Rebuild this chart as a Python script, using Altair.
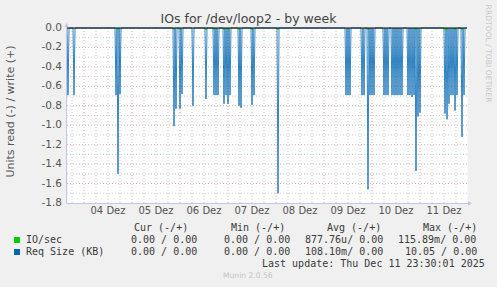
import altair as alt
import pandas as pd

# ---------------- data ----------------
title_text = "IOs for /dev/loop2 - by week"
y_title = "Units read (-) / write (+)"
x_start = "2025-12-03 15:30"
x_end = "2025-12-11 23:30"
step = "30min"
label_days = ["2025-12-04", "2025-12-05", "2025-12-06", "2025-12-07",
              "2025-12-08", "2025-12-09", "2025-12-10", "2025-12-11"]
day_labels = ["04 Dez", "05 Dez", "06 Dez", "07 Dez", "08 Dez", "09 Dez", "10 Dez", "11 Dez"]
y_ticks = [0.0, -0.2, -0.4, -0.6, -0.8, -1.0, -1.2, -1.4, -1.6, -1.8]
y_tick_labels = ["0.0", "-0.2", "-0.4", "-0.6", "-0.8", "-1.0", "-1.2", "-1.4", "-1.6", "-1.8"]
y_minor = [-0.1, -0.3, -0.5, -0.7, -0.9, -1.1, -1.3, -1.5, -1.7]

# Req Size (KB), read side (negative) spikes
req_times = [
    "2025-12-03 16:00", "2025-12-03 19:00",
    "2025-12-04 16:00", "2025-12-04 17:00", "2025-12-04 18:00",
    "2025-12-05 21:00", "2025-12-05 22:00",
    "2025-12-06 00:00", "2025-12-06 01:00", "2025-12-06 06:30",
    "2025-12-06 13:00", "2025-12-06 17:00", "2025-12-06 18:00", "2025-12-06 19:00",
    "2025-12-06 22:00", "2025-12-06 23:00",
    "2025-12-07 00:00", "2025-12-07 01:00", "2025-12-07 05:30", "2025-12-07 06:30",
    "2025-12-07 12:00", "2025-12-07 13:00",
    "2025-12-08 01:00",
    "2025-12-09 11:00", "2025-12-09 12:00", "2025-12-09 13:00",
    "2025-12-09 19:00", "2025-12-09 20:00", "2025-12-09 22:00", "2025-12-09 23:00",
    "2025-12-10 00:00", "2025-12-10 01:00",
    "2025-12-10 06:00", "2025-12-10 07:00", "2025-12-10 08:00",
    "2025-12-10 10:00", "2025-12-10 11:00", "2025-12-10 12:00", "2025-12-10 13:00",
    "2025-12-10 14:00", "2025-12-10 15:00",
    "2025-12-10 18:00", "2025-12-10 19:00", "2025-12-10 20:00", "2025-12-10 21:00",
    "2025-12-10 22:00", "2025-12-10 23:00",
    "2025-12-11 00:00",
    "2025-12-11 12:30", "2025-12-11 13:30", "2025-12-11 14:30", "2025-12-11 15:30",
    "2025-12-11 16:30", "2025-12-11 17:30", "2025-12-11 18:30",
    "2025-12-11 21:00", "2025-12-11 22:00",
]
req_values = [
    -0.69, -0.69,
    -0.69, -1.50, -0.68,
    -1.01, -0.83,
    -0.83, -0.68, -0.80,
    -0.73, -0.69, -0.69, -0.69,
    -0.78, -0.69,
    -0.78, -0.69, -0.80, -0.82,
    -0.79, -0.69,
    -1.70,
    -0.69, -0.69, -0.69,
    -0.69, -0.69, -1.66, -0.69,
    -0.69, -0.69,
    -0.69, -0.69, -0.69,
    -0.69, -0.69, -0.69, -0.69,
    -0.69, -0.69,
    -0.69, -0.69, -0.71, -0.69,
    -1.47, -0.91,
    -0.87,
    -0.88, -0.94, -0.78, -0.69,
    -0.69, -0.85, -0.69,
    -1.12, -0.69,
]

# IO/sec, read side (tiny values)
io_times = [
    "2025-12-04 17:00", "2025-12-05 21:00", "2025-12-06 00:00", "2025-12-06 13:00",
    "2025-12-06 17:00", "2025-12-06 22:00", "2025-12-07 00:00", "2025-12-07 05:30",
    "2025-12-07 12:00", "2025-12-08 01:00", "2025-12-09 22:00", "2025-12-10 22:00",
    "2025-12-11 12:30", "2025-12-11 13:30", "2025-12-11 17:30", "2025-12-11 21:00",
]
io_values = [-0.015] * len(io_times)

legend_names = ["IO/sec", "Req Size (KB)"]
legend_colors = ["#00CC00", "#0066B3"]
col_headers = ["Cur (-/+)", "Min (-/+)", "Avg (-/+)", "Max (-/+)"]
cur_vals = ["0.00 / 0.00", "0.00 / 0.00"]
min_vals = ["0.00 / 0.00", "0.00 / 0.00"]
avg_vals = ["877.76u/ 0.00", "108.10m/ 0.00"]
max_vals = ["115.89m/ 0.00", "10.05 / 0.00"]
last_update = "Last update: Thu Dec 11 23:30:01 2025"
munin_version = "Munin 2.0.56"
rrd_credit = "RRDTOOL / TOBI OETIKER"


def ms(s):
    return int(pd.Timestamp(s, tz="UTC").value // 10**6)


# ---------------- tables ----------------
grid_times = pd.date_range(pd.Timestamp(x_start, tz="UTC"), pd.Timestamp(x_end, tz="UTC"), freq=step)
series = {int(t.value // 10**6): 0.0 for t in grid_times}
for t, v in zip(req_times, req_values):
    series[ms(t)] = v
req_df = pd.DataFrame({"t": list(series.keys()), "v": list(series.values())})
io_df = pd.DataFrame({"t": [ms(t) for t in io_times], "v": io_values, "z": [0.0] * len(io_times)})

t0, t1 = ms(x_start), ms(x_end)
six_h = pd.date_range(pd.Timestamp(x_start, tz="UTC").ceil("6h"), pd.Timestamp(x_end, tz="UTC"), freq="6h")
major_x = [int(t.value // 10**6) for t in six_h if t.hour == 0]
minor_x = [int(t.value // 10**6) for t in six_h if t.hour != 0]
xlab_df = pd.DataFrame({"t": [ms(d + " 12:00") for d in label_days], "lab": day_labels})
ylab_df = pd.DataFrame({"v": y_ticks, "lab": y_tick_labels})
zero_df = pd.DataFrame({"v": [0.0]})

xscale = alt.Scale(type="utc", domain=[t0, t1], nice=False)
yscale = alt.Scale(domain=[-1.8, 0.0], nice=False, zero=False)

dummy = pd.DataFrame({"d": [0]})
FONT = "DejaVu Sans"
MONO = "DejaVu Sans Mono"
LAV = "#C4C4EC"

layers = []

# grid lines
layers.append(alt.Chart(pd.DataFrame({"t": minor_x})).mark_rule(
    color="#CFCFCF", strokeWidth=1, strokeDash=[1, 2]).encode(
    x=alt.X("t:T", scale=xscale, axis=None)))
layers.append(alt.Chart(pd.DataFrame({"v": y_minor})).mark_rule(
    color="#CFCFCF", strokeWidth=1, strokeDash=[1, 2]).encode(
    y=alt.Y("v:Q", scale=yscale, axis=None)))
layers.append(alt.Chart(pd.DataFrame({"t": major_x})).mark_rule(
    color="#E8A8A8", strokeWidth=1, strokeDash=[1, 2]).encode(
    x=alt.X("t:T", scale=xscale, axis=None)))
layers.append(alt.Chart(pd.DataFrame({"v": y_ticks[1:-1]})).mark_rule(
    color="#E8A8A8", strokeWidth=1, strokeDash=[1, 2]).encode(
    y=alt.Y("v:Q", scale=yscale, axis=None)))

# blue line
layers.append(alt.Chart(req_df).mark_line(color="#0066B3", strokeWidth=0.8).encode(
    x=alt.X("t:T", scale=xscale, axis=None),
    y=alt.Y("v:Q", scale=yscale, axis=None),
))

# green IO/sec
layers.append(alt.Chart(io_df).mark_rule(color="#00CC00", strokeWidth=2).encode(
    x=alt.X("t:T", scale=xscale, axis=None),
    y=alt.Y("v:Q", scale=yscale, axis=None),
    y2=alt.Y2("z")))

# zero line
layers.append(alt.Chart(zero_df).mark_rule(color="#000000", strokeWidth=1).encode(
    y=alt.Y("v:Q", scale=yscale, axis=None), x=alt.value(0), x2=alt.value(400)))

# axis lines and arrows
layers.append(alt.Chart(dummy).mark_rule(color=LAV, strokeWidth=1).encode(
    x=alt.value(-0.5), y=alt.value(-4), y2=alt.value(175)))
layers.append(alt.Chart(dummy).mark_rule(color=LAV, strokeWidth=1).encode(
    y=alt.value(175.5), x=alt.value(-0.5), x2=alt.value(403)))
layers.append(alt.Chart(dummy).mark_point(shape="triangle-up", filled=True, size=22,
                                          color=LAV, opacity=1).encode(
    x=alt.value(-0.5), y=alt.value(-3)))
layers.append(alt.Chart(dummy).mark_point(shape="triangle-right", filled=True, size=22,
                                          color=LAV, opacity=1).encode(
    x=alt.value(403), y=alt.value(175.5)))

# tick labels through the scales
layers.append(alt.Chart(xlab_df).mark_text(font=FONT, fontSize=10, color="#555555",
                                           align="center", baseline="middle").encode(
    x=alt.X("t:T", scale=xscale, axis=None), y=alt.value(183),
    text=alt.Text("lab:N")))
layers.append(alt.Chart(ylab_df).mark_text(font=FONT, fontSize=10.5, color="#555555",
                                           align="right", baseline="middle").encode(
    y=alt.Y("v:Q", scale=yscale, axis=None), x=alt.value(-5),
    text=alt.Text("lab:N")))

OX, OY = 67, 28


def txt(s, x, y, font=MONO, size=10, color="#3A3A3A", align="left", baseline="middle", angle=0):
    kw = dict(text=s, font=font, fontSize=size, color=color, align=align, baseline=baseline)
    if angle:
        kw["angle"] = angle
    return alt.Chart(dummy).mark_text(**kw).encode(x=alt.value(x - OX), y=alt.value(y - OY))


layers.append(txt(title_text, 248.5, 23, font=FONT, size=12.5, color="#444444",
                  align="center", baseline="alphabetic"))
layers.append(txt(y_title, 11, 111.5, font=FONT, size=11, color="#555555",
                  align="center", angle=270))
layers.append(txt(rrd_credit, 487.5, 53.5, font=FONT, size=7.6, color="#C8C8C8",
                  align="center", angle=90))

header_x = [134, 231, 327, 423]
for h, hx in zip(col_headers, header_x):
    layers.append(txt(h, hx, 227.5))

row_y = [240, 252]
for i in range(2):
    layers.append(alt.Chart(dummy).mark_square(size=36, color=legend_colors[i], opacity=1).encode(
        x=alt.value(17 - OX), y=alt.value(row_y[i] - OY)))
    layers.append(txt(legend_names[i], 26, row_y[i]))
    layers.append(txt(cur_vals[i], 131, row_y[i]))
    layers.append(txt(min_vals[i], 224, row_y[i]))
    layers.append(txt(avg_vals[i], 305, row_y[i]))
    layers.append(txt(max_vals[i], [398, 405][i], row_y[i]))

layers.append(txt(last_update, 262, 263.5))
layers.append(txt(munin_version, 223, 276, font=FONT, size=7.6, color="#C4C4C4"))

chart = alt.layer(*layers).properties(
    width=400, height=175,
    autosize=alt.AutoSizeParams(type="none"),
    padding={"left": 67, "top": 28, "right": 30, "bottom": 84},
    background="#F0F0F0",
).configure_view(fill="white", stroke="transparent")

chart.save("out.html", embed_options={"renderer": "svg", "actions": False})
